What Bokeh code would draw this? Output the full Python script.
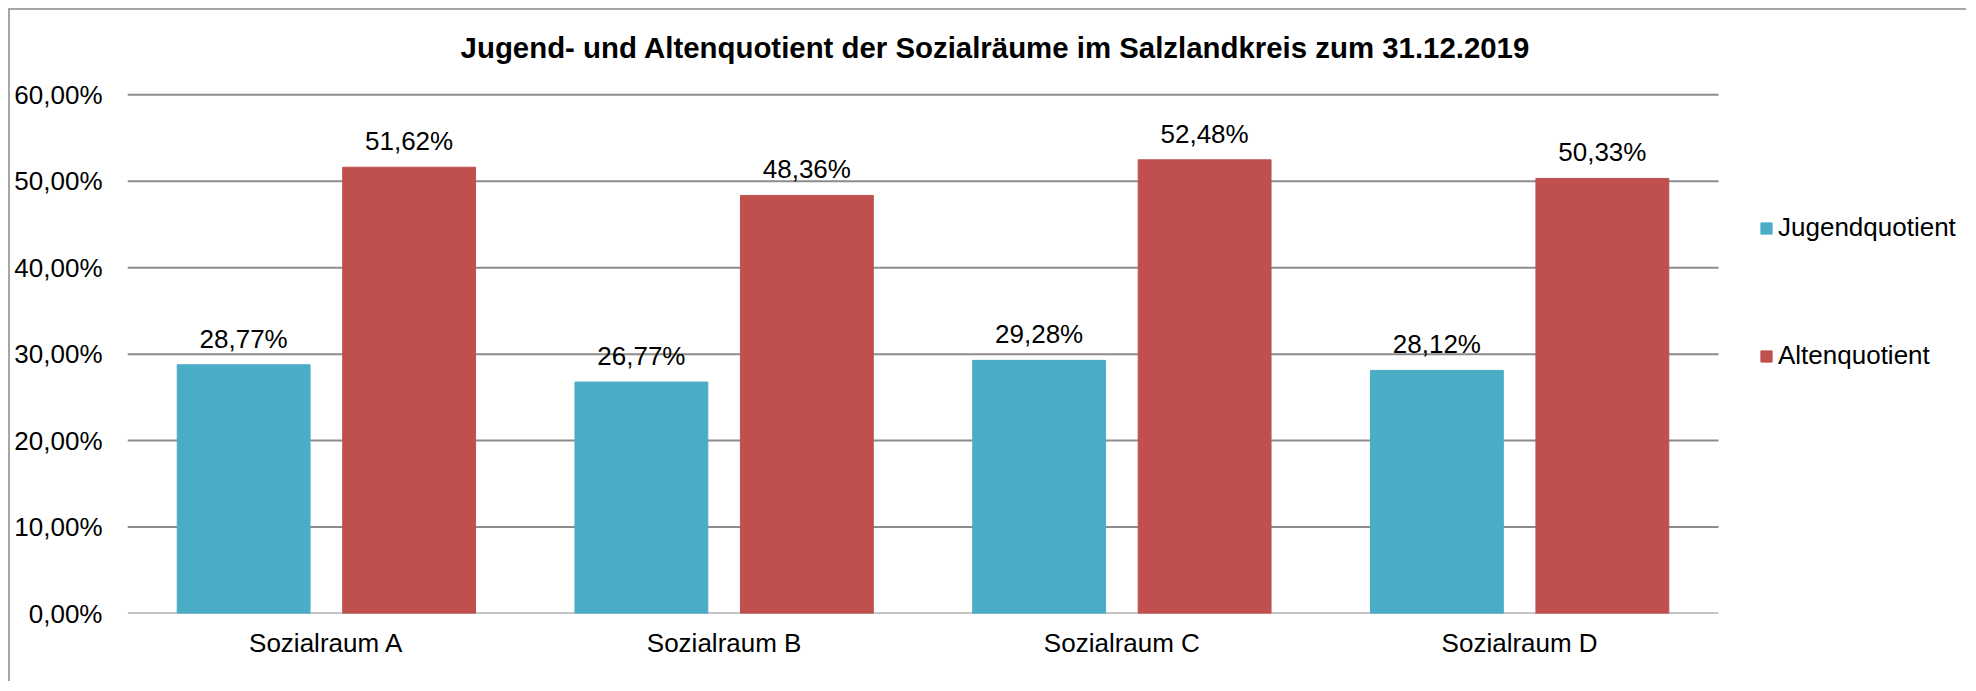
import numpy as np
from bokeh.plotting import figure
from bokeh.models import (ColumnDataSource, Range1d, FixedTicker, Label,
                          CustomJSTickFormatter, LabelSet, Legend, LegendItem)
from bokeh.core.properties import value
from bokeh.embed import file_html
from bokeh.resources import INLINE

# ---- data ----
categories = ["Sozialraum A", "Sozialraum B", "Sozialraum C", "Sozialraum D"]
jugendquotient = [0.2877, 0.2677, 0.2928, 0.2812]
altenquotient = [0.5162, 0.4836, 0.5248, 0.5033]
series_names = ["Jugendquotient", "Altenquotient"]
y_ticks = [0.0, 0.1, 0.2, 0.3, 0.4, 0.5, 0.6]
title_text = "Jugend- und Altenquotient der Sozialräume im Salzlandkreis zum 31.12.2019"

FONT = "Liberation Sans"
C_JUNG = "#4BACC6"
C_ALT = "#C0504D"
GRID = "#8c8c8c"


def fmt(v):
    return f"{v * 100:.2f}".replace(".", ",") + "%"


n = len(categories)
centers = np.arange(n) + 0.5
off = 0.208
bw = 0.334

src = ColumnDataSource(dict(
    xj=centers - off,
    xa=centers + off,
    jung=jugendquotient,
    alt=altenquotient,
    jung_lbl=[fmt(v) for v in jugendquotient],
    alt_lbl=[fmt(v) for v in altenquotient],
))

# frame: left edge at the plot area, extends to the right/top canvas edges
p = figure(
    width=1958, height=673,
    x_range=Range1d(0, 1841 / 397.75),
    y_range=Range1d(0, 603 / 864.5),
    output_backend="svg", toolbar_location=None,
    min_border_left=117, min_border_right=0,
    min_border_top=0, min_border_bottom=70,
)
p.styles = {"margin-top": "8px", "margin-left": "8px",
            "border-top": "2px solid #a6a6a6", "border-left": "2px solid #a6a6a6"}
p.outline_line_color = None
p.background_fill_color = "white"
p.border_fill_color = "white"

# horizontal gridlines across the category span
p.segment(x0=0, x1=n, y0=y_ticks, y1=y_ticks, line_color=GRID, line_width=2)

r1 = p.vbar(x="xj", top="jung", width=bw, source=src, fill_color=C_JUNG, line_color=C_JUNG)
r2 = p.vbar(x="xa", top="alt", width=bw, source=src, fill_color=C_ALT, line_color=C_ALT)

for xf, field, lbl in (("xj", "jung", "jung_lbl"), ("xa", "alt", "alt_lbl")):
    p.add_layout(LabelSet(x=xf, y=field, text=lbl, source=src,
                          text_align="center", text_baseline="alphabetic", y_offset=17,
                          text_font=value(FONT), text_font_size=value("26px"),
                          text_color="#000000"))

# axes
p.yaxis.ticker = FixedTicker(ticks=y_ticks)
p.yaxis.formatter = CustomJSTickFormatter(
    code="return (tick*100).toFixed(2).replace('.', ',') + '%';")
p.yaxis.axis_line_color = None
p.yaxis.major_tick_line_color = None
p.yaxis.minor_tick_line_color = None
p.yaxis.major_tick_out = 0
p.yaxis.major_tick_in = 0
p.yaxis.minor_tick_out = 0
p.yaxis.major_label_standoff = 25
p.yaxis.major_label_text_font = FONT
p.yaxis.major_label_text_font_size = "26px"
p.yaxis.major_label_text_color = "#000000"

p.xaxis.ticker = FixedTicker(ticks=list(centers))
p.xaxis.major_label_overrides = {float(c): cat for c, cat in zip(centers, categories)}
p.xaxis.axis_line_color = None
p.xaxis.major_tick_line_color = None
p.xaxis.minor_tick_line_color = None
p.xaxis.major_tick_out = 0
p.xaxis.major_tick_in = 0
p.xaxis.minor_tick_out = 0
p.xaxis.major_label_standoff = 14
p.xaxis.major_label_text_font = FONT
p.xaxis.major_label_text_font_size = "26px"
p.xaxis.major_label_text_color = "#000000"

p.xgrid.visible = False
p.ygrid.visible = False

# title
p.add_layout(Label(x=868, y=566, x_units="screen", y_units="screen", text=title_text,
                   text_align="center", text_baseline="alphabetic",
                   text_font=FONT, text_font_size="29.4px", text_font_style="bold",
                   text_color="#000000"))

# legend
legend = Legend(items=[LegendItem(label=series_names[0], renderers=[r1]),
                       LegendItem(label=series_names[1], renderers=[r2])],
                location=(1632, 242), orientation="vertical",
                glyph_width=14, glyph_height=14, label_height=30, spacing=97,
                label_standoff=5, padding=0, margin=0,
                border_line_color=None, background_fill_alpha=0,
                label_text_font=FONT, label_text_font_size="26px",
                label_text_color="#000000")
p.add_layout(legend, "center")

open("out.html", "w").write(file_html(p, INLINE))
